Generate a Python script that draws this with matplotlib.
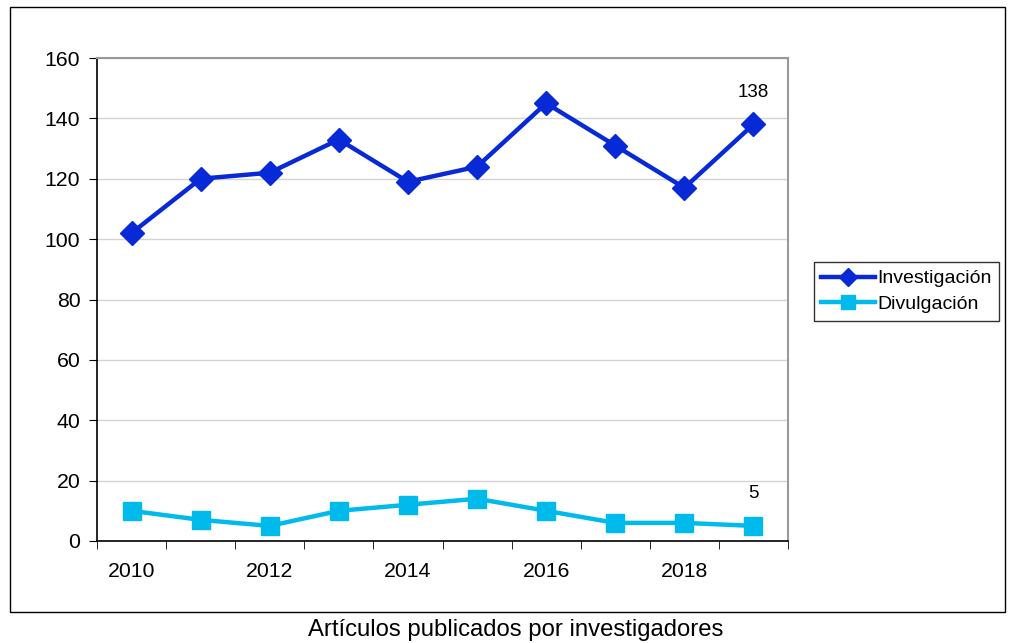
import matplotlib.pyplot as plt
from matplotlib.patches import Rectangle
import numpy as np

years = ['2010', '2011', '2012', '2013', '2014', '2015', '2016', '2017', '2018', '2019']
investigacion = [102, 120, 122, 133, 119, 124, 145, 131, 117, 138]
divulgacion = [10, 7, 5, 10, 12, 14, 10, 6, 6, 5]

plt.rcParams['font.family'] = ['Liberation Sans', 'DejaVu Sans']

fig = plt.figure(figsize=(10.10, 6.43), dpi=100)
ax = fig.add_axes([97 / 1010, 1 - 541 / 643, (788 - 97) / 1010, (541 - 58) / 643])

x = np.arange(len(years))
ax.plot(x, investigacion, color='#0829D6', lw=3.2, marker='D', ms=12,
        label='Investigación', zorder=3)
ax.plot(x, divulgacion, color='#00BAEC', lw=3.2, marker='s', ms=13,
        label='Divulgación', zorder=3)

ax.annotate(str(investigacion[-1]), (x[-1], investigacion[-1]), xytext=(0, 17),
            textcoords='offset points', ha='center', va='bottom', fontsize=13.5)
ax.annotate(str(divulgacion[-1]), (x[-1], divulgacion[-1]), xytext=(0, 17),
            textcoords='offset points', ha='center', va='bottom', fontsize=13.5)

ax.set_xlim(-0.5, len(years) - 0.5)
ax.set_ylim(0, 160)
ax.set_yticks(np.arange(0, 161, 20))
ax.yaxis.grid(True, color='#d4d4d4', lw=1)
ax.set_axisbelow(True)

ax.set_xticks(x[::2])
ax.set_xticklabels(years[::2])
ax.set_xticks(np.arange(-0.5, len(years)), minor=True)
ax.tick_params(axis='x', which='major', length=0, pad=15, labelsize=15.3)
ax.tick_params(axis='x', which='minor', length=6, direction='out')
ax.tick_params(axis='y', length=6, direction='out', labelsize=15.3, pad=6)

ax.spines['top'].set_color('#999999')
ax.spines['right'].set_color('#999999')
ax.spines['top'].set_linewidth(1.5)
ax.spines['right'].set_linewidth(1.5)
ax.spines['left'].set_linewidth(1.2)
ax.spines['bottom'].set_linewidth(1.2)

leg = ax.legend(loc='center left', bbox_to_anchor=(1.037, 0.517), fontsize=14,
                frameon=True, fancybox=False, edgecolor='black',
                handlelength=2.75, handletextpad=0.12, borderpad=0.4,
                labelspacing=0.4, borderaxespad=0, markerscale=0.75)
leg.get_frame().set_linewidth(1)

fig.patches.append(Rectangle((10 / 1010, 1 - 612 / 643), 995 / 1010, 605 / 643,
                             transform=fig.transFigure, fill=False,
                             edgecolor='black', lw=1))

fig.text(516 / 1010, 1 - 630 / 643, 'Artículos publicados por investigadores',
         ha='center', va='center', fontsize=17.2)

fig.savefig('out.png', dpi=100)
